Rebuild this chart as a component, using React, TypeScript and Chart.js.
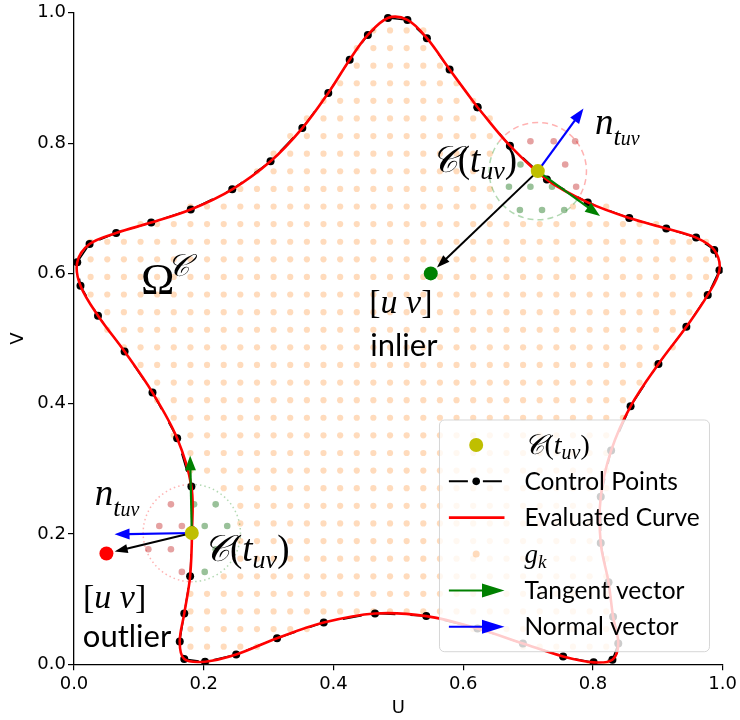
import { useEffect, useRef } from 'react';
import { Chart, registerables } from 'chart.js';
Chart.register(...registerables);

// ---------------- data ----------------
const TICK_VALUES = [0, 0.2, 0.4, 0.6, 0.8, 1.0];
const TICK_LABELS = ['0.0', '0.2', '0.4', '0.6', '0.8', '1.0'];

// control points of the closed curve
const CTRL_U = [0.622, 0.672, 0.729, 0.792, 0.856, 0.913, 0.959, 0.987, 0.995, 0.977, 0.944, 0.901, 0.858, 0.828, 0.812, 0.812, 0.824, 0.831, 0.839, 0.830, 0.801, 0.754, 0.692, 0.622, 0.543, 0.464, 0.385, 0.313, 0.250, 0.202, 0.170, 0.163, 0.170, 0.179, 0.182, 0.181, 0.159, 0.121, 0.078, 0.037, 0.010, 0.005, 0.024, 0.065, 0.119, 0.180, 0.244, 0.303, 0.352, 0.392, 0.425, 0.453, 0.484, 0.514, 0.544, 0.579];
const CTRL_V = [0.855, 0.796, 0.744, 0.709, 0.685, 0.669, 0.655, 0.636, 0.605, 0.567, 0.518, 0.461, 0.396, 0.328, 0.257, 0.186, 0.126, 0.073, 0.032, 0.007, 0.003, 0.012, 0.032, 0.055, 0.074, 0.078, 0.064, 0.040, 0.015, 0.004, 0.008, 0.035, 0.078, 0.135, 0.206, 0.273, 0.347, 0.417, 0.480, 0.535, 0.581, 0.617, 0.645, 0.662, 0.678, 0.698, 0.729, 0.772, 0.823, 0.877, 0.928, 0.966, 0.992, 0.989, 0.961, 0.913];

// sample grid g_k (lattice columns / rows)
const GRID_U = [0, 0.0256, 0.0513, 0.0769, 0.1026, 0.1282, 0.1538, 0.1795, 0.2051, 0.2308, 0.2564, 0.2821, 0.3077, 0.3333, 0.3590, 0.3846, 0.4103, 0.4359, 0.4615, 0.4872, 0.5128, 0.5385, 0.5641, 0.5897, 0.6154, 0.6410, 0.6667, 0.6923, 0.7179, 0.7436, 0.7692, 0.7949, 0.8205, 0.8462, 0.8718, 0.8974, 0.9231, 0.9487, 0.9744, 1.0];
const GRID_V = [0, 0.0270, 0.0541, 0.0811, 0.1081, 0.1351, 0.1622, 0.1892, 0.2162, 0.2432, 0.2703, 0.2973, 0.3243, 0.3514, 0.3784, 0.4054, 0.4324, 0.4595, 0.4865, 0.5135, 0.5405, 0.5676, 0.5946, 0.6216, 0.6486, 0.6757, 0.7027, 0.7297, 0.7568, 0.7838, 0.8108, 0.8378, 0.8649, 0.8919, 0.9189, 0.9459, 0.9730, 1.0];

// closest curve points C(t_uv)
const C_U = [0.715, 0.1816];
const C_V = [0.757, 0.2015];
// tips of normal / tangent vectors
const NORMAL_U = [0.7854, 0.0625];
const NORMAL_V = [0.853, 0.1995];
const TANGENT_U = [0.8109, 0.179];
const TANGENT_V = [0.688, 0.3206];
// query points [u v]
const INLIER_U = [0.55];
const INLIER_V = [0.60];
const OUTLIER_U = [0.05];
const OUTLIER_V = [0.17];
const QUERY_U = [INLIER_U[0], OUTLIER_U[0]];
const QUERY_V = [INLIER_V[0], OUTLIER_V[0]];
const CIRCLE_R = 0.075;

// neighbouring grid samples around C(t_uv)
const NEAR_OUT_U = [0.7036, 0.7395, 0.7726, 0.7572, 0.7741, 0.1494, 0.1315, 0.1663, 0.1146, 0.1494, 0.1663];
const NEAR_OUT_V = [0.8029, 0.8029, 0.8029, 0.7672, 0.7329, 0.2455, 0.2123, 0.2123, 0.1766, 0.1766, 0.1418];
const NEAR_IN_U = [0.6883, 0.6705, 0.7036, 0.7369, 0.6874, 0.7215, 0.7557, 0.1851, 0.2184, 0.2015, 0.2362, 0.2184, 0.2015];
const NEAR_IN_V = [0.7672, 0.7329, 0.7329, 0.7329, 0.6972, 0.6972, 0.6972, 0.2455, 0.2455, 0.2123, 0.2123, 0.1766, 0.1418];

const LEGEND_LABELS = ['C(t_uv)', 'Control Points', 'Evaluated Curve', 'g_k', 'Tangent vector', 'Normal vector'];

// ---------------- styles ----------------
const SERIF = '"Liberation Serif", "DejaVu Serif", serif';
const SANS = 'Lato, "DejaVu Sans", sans-serif';
const YELLOW = '#bfbf00';
const GRID_COLOR = 'rgba(255,127,14,0.28)';
const DASH_CTRL = [19, 15];

type Run = { t: string; f: string; dy?: number; dx?: number };

const cRuns = (S: number): Run[] => [
  { t: '\u{1D49E}', f: `italic ${S}px ${SERIF}` },
  { t: '(', f: `${S}px ${SERIF}` },
  { t: 't', f: `italic ${S}px ${SERIF}` },
  { t: 'uv', f: `italic ${Math.round(S * 0.7)}px ${SERIF}`, dy: S * 0.19 },
  { t: ')', f: `${S}px ${SERIF}` },
];
const nRuns = (S: number): Run[] => [
  { t: 'n', f: `italic ${S}px ${SERIF}` },
  { t: 't', f: `italic ${Math.round(S * 0.7)}px ${SERIF}`, dy: S * 0.29 },
  { t: 'uv', f: `italic ${Math.round(S * 0.53)}px ${SERIF}`, dy: S * 0.29 },
];
const omegaRuns = (S: number): Run[] => [
  { t: '\u03A9', f: `${S}px ${SERIF}` },
  { t: '\u{1D49E}', f: `italic ${Math.round(S * 0.68)}px ${SERIF}`, dy: -S * 0.4, dx: -S * 0.17 },
];
const uvRuns = (S: number): Run[] => [
  { t: '[', f: `${S}px ${SERIF}` },
  { t: 'u', f: `italic ${S}px ${SERIF}` },
  { t: ' ', f: `${S}px ${SERIF}` },
  { t: 'v', f: `italic ${S}px ${SERIF}` },
  { t: ']', f: `${S}px ${SERIF}` },
];
const gkRuns = (S: number): Run[] => [
  { t: 'g', f: `italic ${S}px ${SERIF}` },
  { t: 'k', f: `italic ${Math.round(S * 0.7)}px ${SERIF}`, dy: S * 0.2 },
];
const sansRuns = (t: string, S: number): Run[] => [{ t, f: `${S}px ${SANS}` }];

const ANNOTATIONS: { u: number; v: number; align: string; runs: Run[] }[] = [
  { u: 0.1034, v: 0.568, align: 'left', runs: omegaRuns(45) },
  { u: 0.5499, v: 0.7554, align: 'left', runs: cRuns(37) },
  { u: 0.8032, v: 0.8141, align: 'left', runs: nRuns(37) },
  { u: 0.5039, v: 0.5395, align: 'center', runs: uvRuns(34) },
  { u: 0.5085, v: 0.4737, align: 'center', runs: sansRuns('inlier', 31) },
  { u: 0.0319, v: 0.244, align: 'left', runs: nRuns(37) },
  { u: 0.1989, v: 0.1582, align: 'left', runs: cRuns(37) },
  { u: 0.0626, v: 0.0862, align: 'center', runs: uvRuns(34) },
  { u: 0.0817, v: 0.026, align: 'center', runs: sansRuns('outlier', 31) },
];

// ---------------- helpers ----------------
function segDist(px: number, py: number, ax: number, ay: number, bx: number, by: number) {
  const dx = bx - ax, dy = by - ay;
  const l2 = dx * dx + dy * dy;
  let t = l2 ? ((px - ax) * dx + (py - ay) * dy) / l2 : 0;
  t = Math.max(0, Math.min(1, t));
  return Math.hypot(px - (ax + t * dx), py - (ay + t * dy));
}
function inShape(px: number, py: number) {
  let inside = false;
  let minD = Infinity;
  const n = CTRL_U.length;
  for (let i = 0, j = n - 1; i < n; j = i++) {
    const xi = CTRL_U[i], yi = CTRL_V[i], xj = CTRL_U[j], yj = CTRL_V[j];
    if ((yi > py) !== (yj > py) && px < ((xj - xi) * (py - yi)) / (yj - yi) + xi) inside = !inside;
    minD = Math.min(minD, segDist(px, py, xi, yi, xj, yj));
  }
  return inside || minD < 0.006;
}
function nearC(px: number, py: number) {
  return C_U.some((cu, i) => Math.hypot(px - cu, py - C_V[i]) < CIRCLE_R);
}

const gridPoints: { x: number; y: number }[] = [];
GRID_V.forEach((gv) => GRID_U.forEach((gu) => {
  if (inShape(gu, gv) && !nearC(gu, gv)) gridPoints.push({ x: gu, y: gv });
}));
const ctrlPoints = CTRL_U.map((u, i) => ({ x: u, y: CTRL_V[i] }));
const closedCurve = [...ctrlPoints, ctrlPoints[0]];

function drawRuns(ctx: CanvasRenderingContext2D, x: number, y: number, runs: Run[], align: string) {
  const widths = runs.map((r) => { ctx.font = r.f; return ctx.measureText(r.t).width + (r.dx || 0); });
  const total = widths.reduce((a, b) => a + b, 0);
  let cx = align === 'center' ? x - total / 2 : align === 'right' ? x - total : x;
  ctx.textAlign = 'left';
  ctx.textBaseline = 'alphabetic';
  runs.forEach((r, i) => { ctx.font = r.f; ctx.fillText(r.t, cx + (r.dx || 0), y + (r.dy || 0)); cx += widths[i]; });
}

function arrow(ctx: CanvasRenderingContext2D, x1: number, y1: number, x2: number, y2: number,
  color: string, lw: number, hl: number, hw: number, shrink: number) {
  const dx = x2 - x1, dy = y2 - y1, L = Math.hypot(dx, dy);
  const ux = dx / L, uy = dy / L;
  const tx = x2 - ux * shrink, ty = y2 - uy * shrink;
  const bx = tx - ux * hl, by = ty - uy * hl;
  ctx.save();
  ctx.strokeStyle = color; ctx.fillStyle = color; ctx.lineWidth = lw; ctx.setLineDash([]);
  ctx.beginPath(); ctx.moveTo(x1, y1); ctx.lineTo(bx + ux * 2, by + uy * 2); ctx.stroke();
  ctx.beginPath(); ctx.moveTo(tx, ty);
  ctx.lineTo(bx - uy * hw, by + ux * hw); ctx.lineTo(bx + uy * hw, by - ux * hw);
  ctx.closePath(); ctx.fill();
  ctx.restore();
}

function drawCircles(chart: any) {
  const { ctx, scales: { x, y } } = chart;
  C_U.forEach((cu, i) => {
    const cx = x.getPixelForValue(cu), cy = y.getPixelForValue(C_V[i]);
    const r = Math.abs(x.getPixelForValue(CIRCLE_R) - x.getPixelForValue(0));
    const a = Math.atan2(y.getPixelForValue(NORMAL_V[i]) - cy, x.getPixelForValue(NORMAL_U[i]) - cx);
    ctx.save();
    ctx.lineWidth = 1.5;
    ctx.setLineDash(i === 0 ? [6, 4] : [1.5, 3]);
    ctx.strokeStyle = 'rgba(255,0,0,0.3)';
    ctx.beginPath(); ctx.arc(cx, cy, r, a - Math.PI / 2, a + Math.PI / 2); ctx.stroke();
    ctx.strokeStyle = 'rgba(0,128,0,0.3)';
    ctx.beginPath(); ctx.arc(cx, cy, r, a + Math.PI / 2, a + 1.5 * Math.PI); ctx.stroke();
    ctx.restore();
  });
}

function drawArrows(chart: any) {
  const { ctx, scales: { x, y } } = chart;
  C_U.forEach((cu, i) => {
    const cx = x.getPixelForValue(cu), cy = y.getPixelForValue(C_V[i]);
    arrow(ctx, cx, cy, x.getPixelForValue(QUERY_U[i]), y.getPixelForValue(QUERY_V[i]), '#000000', 2, 13, 4.5, 8.5);
    arrow(ctx, cx, cy, x.getPixelForValue(NORMAL_U[i]), y.getPixelForValue(NORMAL_V[i]), '#0000ff', 2.2, 15, 5.5, 0);
    arrow(ctx, cx, cy, x.getPixelForValue(TANGENT_U[i]), y.getPixelForValue(TANGENT_V[i]), '#008000', 2.2, 15, 5.5, 0);
  });
}

function drawAnnotations(chart: any) {
  const { ctx, scales: { x, y } } = chart;
  ctx.save();
  ctx.fillStyle = '#000';
  ANNOTATIONS.forEach((a) => drawRuns(ctx, x.getPixelForValue(a.u), y.getPixelForValue(a.v), a.runs, a.align));
  ctx.restore();
}

function drawLegend(chart: any) {
  const { ctx, chartArea: ca } = chart;
  const W = 270, H = 231.7;
  const x0 = ca.right - 13.2 - W, y0 = ca.bottom - 12.6 - H;
  ctx.save();
  ctx.beginPath();
  ctx.roundRect(x0, y0, W, H, 5);
  ctx.fillStyle = 'rgba(255,255,255,0.8)';
  ctx.fill();
  ctx.lineWidth = 1;
  ctx.strokeStyle = 'rgba(204,204,204,0.8)';
  ctx.stroke();
  const hx0 = x0 + 9.4, hx1 = x0 + 65, hc = x0 + 36.7, tx = x0 + 85;
  LEGEND_LABELS.forEach((label, i) => {
    const cy = y0 + 25 + i * 36.35;
    ctx.setLineDash([]);
    if (i === 0) {
      ctx.fillStyle = YELLOW; ctx.beginPath(); ctx.arc(hc, cy, 7, 0, 2 * Math.PI); ctx.fill();
    } else if (i === 1) {
      ctx.strokeStyle = '#000'; ctx.lineWidth = 2; ctx.setLineDash(DASH_CTRL);
      ctx.beginPath(); ctx.moveTo(hx0, cy); ctx.lineTo(hx1, cy); ctx.stroke(); ctx.setLineDash([]);
      ctx.fillStyle = '#000'; ctx.beginPath(); ctx.arc(hc, cy, 3.8, 0, 2 * Math.PI); ctx.fill();
    } else if (i === 2) {
      ctx.strokeStyle = '#ff0000'; ctx.lineWidth = 2.7;
      ctx.beginPath(); ctx.moveTo(hx0, cy); ctx.lineTo(hx1, cy); ctx.stroke();
    } else if (i === 3) {
      ctx.fillStyle = GRID_COLOR; ctx.beginPath(); ctx.arc(hc, cy, 3.5, 0, 2 * Math.PI); ctx.fill();
    } else {
      const col = i === 4 ? '#008000' : '#0000ff';
      ctx.strokeStyle = col; ctx.fillStyle = col; ctx.lineWidth = 2;
      ctx.beginPath(); ctx.moveTo(hx0, cy); ctx.lineTo(hx1 - 20, cy); ctx.stroke();
      ctx.beginPath(); ctx.moveTo(hx1 - 22.5, cy - 7); ctx.lineTo(hx1 - 22.5, cy + 7); ctx.lineTo(hx1, cy); ctx.closePath(); ctx.fill();
    }
    ctx.fillStyle = '#000';
    const runs = label === 'C(t_uv)' ? cRuns(28) : label === 'g_k' ? gkRuns(27) : sansRuns(label, 24.5);
    drawRuns(ctx, tx, cy + 8.5, runs, 'left');
  });
  ctx.restore();
}

const overlayPlugin = {
  id: 'overlay',
  afterDatasetDraw(chart: any, args: any) {
    if (chart.data.datasets[args.index].label === 'near-in') drawCircles(chart);
  },
  beforeDatasetDraw(chart: any, args: any) {
    if (chart.data.datasets[args.index].label === 'outlier') drawArrows(chart);
  },
  afterDraw(chart: any) {
    drawAnnotations(chart);
    drawLegend(chart);
  },
};

const axisCommon = (title: string, isX: boolean) => ({
  type: 'linear' as const,
  min: 0,
  max: 1,
  afterBuildTicks: (s: any) => { s.ticks = TICK_VALUES.map((v) => ({ value: v })); },
  afterFit: (s: any) => { if (isX) s.height = 55.7; else s.width = 74; },
  grid: { drawOnChartArea: false, drawTicks: true, tickLength: 6, color: '#000', lineWidth: 1.2 },
  border: { display: true, color: '#000', width: 1.3 },
  ticks: {
    autoSkip: false,
    maxRotation: 0,
    padding: isX ? 3 : 2,
    color: '#000',
    font: { family: '"DejaVu Sans"', size: 18 },
    callback: (_v: any, idx: number) => TICK_LABELS[idx],
  },
  title: {
    display: true,
    text: title,
    color: '#000',
    font: { family: '"DejaVu Sans"', size: 18 },
    padding: isX ? { top: 0, bottom: 0.5 } : { top: 8, bottom: 0 },
  },
});

export default function App() {
  const ref = useRef<HTMLCanvasElement>(null);
  useEffect(() => {
    const chart = new Chart(ref.current as HTMLCanvasElement, {
      type: 'scatter',
      data: {
        datasets: [
          { label: 'C', data: C_U.map((u, i) => ({ x: u, y: C_V[i] })), backgroundColor: YELLOW, borderWidth: 0, pointRadius: 7, order: 0 } as any,
          { label: 'inlier', data: INLIER_U.map((u, i) => ({ x: u, y: INLIER_V[i] })), backgroundColor: '#008000', borderWidth: 0, pointRadius: 7, order: 0 },
          { label: 'outlier', data: OUTLIER_U.map((u, i) => ({ x: u, y: OUTLIER_V[i] })), backgroundColor: '#ff0000', borderWidth: 0, pointRadius: 7, order: 0 },
          { label: 'curve', data: closedCurve, showLine: true, borderColor: '#ff0000', borderWidth: 2.6, pointRadius: 0, tension: 0.35, fill: false, order: 2 },
          { label: 'control', data: closedCurve, showLine: true, borderColor: '#000', borderWidth: 1.5, borderDash: DASH_CTRL, pointRadius: 4, backgroundColor: '#000', pointBorderWidth: 0, tension: 0, fill: false, order: 3 },
          { label: 'near-out', data: NEAR_OUT_U.map((u, i) => ({ x: u, y: NEAR_OUT_V[i] })), backgroundColor: 'rgba(190,20,20,0.4)', borderWidth: 0, pointRadius: 3.3, order: 4 },
          { label: 'near-in', data: NEAR_IN_U.map((u, i) => ({ x: u, y: NEAR_IN_V[i] })), backgroundColor: 'rgba(0,100,0,0.4)', borderWidth: 0, pointRadius: 3.3, order: 4 },
          { label: 'grid', data: gridPoints, backgroundColor: GRID_COLOR, borderWidth: 0, pointRadius: 3.1, order: 5 },
        ],
      },
      options: {
        animation: false,
        responsive: false,
        maintainAspectRatio: false,
        events: [],
        layout: { padding: { left: 0, right: 13.5, top: 11, bottom: 0 } },
        plugins: { legend: { display: false }, tooltip: { enabled: false } },
        scales: { x: axisCommon('U', true) as any, y: axisCommon('V', false) as any },
      },
      plugins: [overlayPlugin],
    });
    return () => chart.destroy();
  }, []);
  return (
    <div style={{ position: 'absolute', left: 0, top: 0, width: 740, height: 720, background: '#fff' }}>
      <canvas ref={ref} width={740} height={720} style={{ display: 'block', width: 740, height: 720 }} />
    </div>
  );
}
